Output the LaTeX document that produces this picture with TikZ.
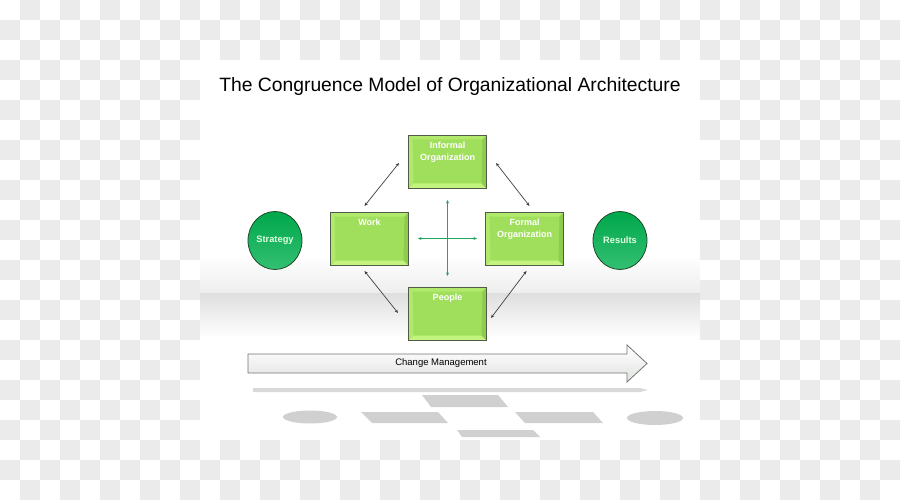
\documentclass[tikz,border=0pt]{standalone}
\usepackage{fontspec}
\setmainfont{Liberation Sans}
\usetikzlibrary{arrows.meta,shapes.geometric}

\definecolor{checkgray}{HTML}{EBEBEB}
\definecolor{floorgray}{HTML}{D9D9D9}
\definecolor{boxgreen}{HTML}{A0DF5C}
\definecolor{bevellight}{HTML}{C4F37F}
\definecolor{bevelmid}{HTML}{B0E96C}
\definecolor{beveldark}{HTML}{8FCB4E}
\definecolor{boxedge}{HTML}{515C48}
\definecolor{circgreen}{HTML}{00B04F}
\definecolor{circedge}{HTML}{1E4A2A}
\definecolor{crossgreen}{HTML}{1FA85A}
\definecolor{reflgray}{HTML}{D0D0D0}

\tikzset{
  blockbox/.style={draw=boxedge, line width=1pt, fill=boxgreen, minimum width=78pt, minimum height=53pt, inner sep=0pt,
    path picture={
      \fill[bevelmid] (path picture bounding box.north west) -- (path picture bounding box.north east)
        -- ([shift={(-4pt,-4pt)}]path picture bounding box.north east) -- ([shift={(4pt,-4pt)}]path picture bounding box.north west) -- cycle;
      \fill[bevellight] (path picture bounding box.south west) -- (path picture bounding box.south east)
        -- ([shift={(-5pt,5pt)}]path picture bounding box.south east) -- ([shift={(5pt,5pt)}]path picture bounding box.south west) -- cycle;
      \fill[beveldark] (path picture bounding box.north east) -- (path picture bounding box.south east)
        -- ([shift={(-5pt,5pt)}]path picture bounding box.south east) -- ([shift={(-4pt,-4pt)}]path picture bounding box.north east) -- cycle;
      \fill[bevelmid] (path picture bounding box.north west) -- (path picture bounding box.south west)
        -- ([shift={(5pt,5pt)}]path picture bounding box.south west) -- ([shift={(4pt,-4pt)}]path picture bounding box.north west) -- cycle;
    }},
  boxtext/.style={anchor=north, align=center, text=white, inner sep=2.5pt, yshift=-4.5pt, font=\bfseries\fontsize{9}{11.5}\selectfont},
  endcirc/.style={ellipse, draw=circedge, line width=0.8pt, minimum width=54pt, minimum height=58pt, inner sep=0pt,
    top color=circgreen!95!black, bottom color=circgreen!80!white, text=white!88!green, font=\bfseries\fontsize{9.3}{11}\selectfont},
  linkarrow/.style={<->, draw=black!75, line width=0.7pt},
  crossarrow/.style={<->, draw=crossgreen, line width=1pt},
}

\begin{document}
\begin{tikzpicture}[x=1pt,y=-1pt,>={Stealth[length=3.5pt,width=3pt]}]
\useasboundingbox (0,0) rectangle (900,500);
\foreach \i in {0,2,...,44}{\foreach \j in {1,3,...,23}{\fill[checkgray] (20*\i,20*\j) rectangle +(20,20);}}
\foreach \i in {1,3,...,43}{\foreach \j in {0,2,...,24}{\fill[checkgray] (20*\i,20*\j) rectangle +(20,20);}}
\fill[white] (200,60) rectangle (700,440);
\shade[top color=white, bottom color=floorgray!45] (200,255) rectangle (700,293);
\shade[top color=floorgray!85, bottom color=white] (200,293) rectangle (700,338);

\node[font=\fontsize{19.3}{22}\selectfont] (title) at (450,87) {The Congruence Model of Organizational Architecture};

% reflection
\fill[reflgray, opacity=.8] (253,388) -- (640,388) -- (648,390) -- (640,392) -- (253,392) -- cycle;
\fill[reflgray] (422,395) -- (498,395) -- (508,407) -- (431,407) -- cycle;
\fill[reflgray] (361,412) -- (438,412) -- (448,423) -- (372,423) -- cycle;
\fill[reflgray] (515,412) -- (593,412) -- (603,423) -- (525,423) -- cycle;
\fill[reflgray] (457,430) -- (533,430) -- (540,437) -- (462,437) -- cycle;
\fill[reflgray] (310,417) ellipse (27 and 6.5);
\fill[reflgray] (655,418) ellipse (28 and 7);

\node[blockbox, label={[boxtext]north:Informal\\Organization}] (informal) at (447.5,162) {};
\node[blockbox, label={[boxtext]north:Work}] (work) at (369.5,239) {};
\node[blockbox, label={[boxtext]north:Formal\\Organization}] (formal) at (524.5,239) {};
\node[blockbox, label={[boxtext]north:People}] (people) at (447.5,314) {};

\node[endcirc] (strategy) at (275,240.5) {Strategy};
\node[endcirc] (results) at (620,240.5) {Results};

\draw[crossarrow, shorten <=11pt, shorten >=11pt] (informal.south) -- (people.north);
\draw[crossarrow, shorten <=9pt, shorten >=8pt] ([yshift=0.5pt]work.east) -- ([yshift=0.5pt]formal.west);

\draw[linkarrow] ([shift={(-5,-6)}]work.north) -- ([shift={(-9,1)}]informal.west);
\draw[linkarrow] ([shift={(9,1)}]informal.east) -- ([shift={(5,-6)}]formal.north);
\draw[linkarrow] ([shift={(-5,5)}]work.south) -- ([shift={(-10,-1)}]people.west);
\draw[linkarrow] ([shift={(4,4)}]people.east) -- ([shift={(2,5)}]formal.south);

\shadedraw[draw=black!55, line width=0.8pt, top color=white, bottom color=green!8!black!12!white]
  (248,354) -- (627,354) -- (627,345) -- (647,363.5) -- (627,382) -- (627,373) -- (248,373) -- cycle;
\node[font=\fontsize{9.5}{11}\selectfont] (change) at (441,363) {Change Management};

\end{tikzpicture}
\end{document}
